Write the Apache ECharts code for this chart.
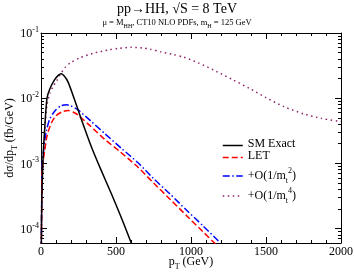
<!DOCTYPE html>
<html><head><meta charset="utf-8">
<script src="https://cdn.jsdelivr.net/npm/echarts@6/dist/echarts.min.js"></script>
<style>html,body{margin:0;padding:0;background:#fff}#c{width:354px;height:273px}</style>
</head><body><div id="c"></div>
<script>
// pT in GeV, dσ/dpT in fb/GeV
const smPt  = [2,5,10,15,25,40,60,90,115,135,155,180,225,270,335,400,470,535,605];
const smVal = [5.0e-5,2.51e-4,7.08e-4,1.41e-3,3.55e-3,1.0e-2,1.41e-2,1.91e-2,2.24e-2,2.37e-2,2.19e-2,1.78e-2,9.33e-3,4.68e-3,1.82e-3,7.94e-4,3.39e-4,1.48e-4,5.75e-5];
const letPt  = [2,5,8,15,25,40,69,100,140,180,220,247,330,424,527,647,750,860,970,1080,1165];
const letVal = [5.0e-5,2.51e-4,7.94e-4,1.12e-3,1.58e-3,2.63e-3,4.17e-3,5.37e-3,6.17e-3,6.46e-3,6.03e-3,5.50e-3,3.72e-3,2.34e-3,1.51e-3,8.71e-4,5.01e-4,2.82e-4,1.58e-4,8.91e-5,5.75e-5];
const m2Pt  = [2,5,8,15,25,36,58,91,130,169,200,247,336,424,536,647,749,860,971,1080,1195];
const m2Val = [5.0e-5,3.16e-4,8.91e-4,1.41e-3,2.24e-3,3.16e-3,4.79e-3,6.31e-3,7.59e-3,7.94e-3,7.59e-3,6.61e-3,4.37e-3,2.88e-3,1.70e-3,1.02e-3,5.89e-4,3.39e-4,1.91e-4,1.10e-4,6.03e-5];
const m4Pt  = [2,5,10,15,25,40,60,80,105,130,160,200,260,350,450,520,600,680,730,800,880,950,1050,1170,1280,1390,1500,1620,1750,1870,2000];
const m4Val = [5.0e-5,2.24e-4,6.31e-4,1.26e-3,3.16e-3,7.94e-3,1.20e-2,1.51e-2,1.86e-2,2.34e-2,2.95e-2,3.55e-2,4.17e-2,4.90e-2,5.50e-2,5.82e-2,6.03e-2,5.89e-2,5.62e-2,5.13e-2,4.68e-2,4.27e-2,3.47e-2,2.57e-2,1.91e-2,1.41e-2,1.02e-2,7.41e-3,5.75e-3,4.90e-3,4.37e-3];
const seriesNames = ['SM Exact','LET','+O(1/mt2)','+O(1/mt4)'];
const legendLabels = ['{b|SM Exact}','{b|LET}','{b|+O(1/m}{sub|t}{sup|2}{b|)}','{b|+O(1/m}{sub|t}{sup|4}{b|)}'];
const xTicks = [0,500,1000,1500,2000];
const yDecades = [-4,-3,-2,-1]; // exponents of 10
const yMin = 6.0e-5, yMax = 1e-1;

const LG = Math.log10;
const pairs = (p, v) => p.map((x, i) => [x, LG(v[i])]);
const minorVals = [];
for (let n = -5; n <= -2; n++) for (let k = 2; k <= 9; k++) {
  const t = n + LG(k);
  if (t > LG(yMin) && t < LG(yMax)) minorVals.push(t);
}
const FONT = '"Liberation Serif","DejaVu Serif",serif';
const grid = {left: 41, right: 13, top: 33, bottom: 30, containLabel: false, outerBoundsMode: 'none'};
const lineCol = '#000';

function xAx(pos, showLabel) {
  return {
    type: 'value', position: pos, min: 0, max: 2000, interval: 500,
    axisLine: {show: true, lineStyle: {color: lineCol, width: 1}},
    axisTick: {show: true, inside: true, length: 6, lineStyle: {color: lineCol}},
    minorTick: {show: true, splitNumber: 5, length: 3, lineStyle: {color: lineCol}},
    splitLine: {show: false}, minorSplitLine: {show: false},
    axisLabel: {show: showLabel, margin: 3, color: '#000', fontFamily: FONT, fontSize: 12,
      customValues: xTicks, formatter: v => String(v)},
    name: showLabel ? '{b|p}{sub|T}{b| (GeV)}' : '', nameLocation: 'middle', nameGap: 13, nameMoveOverlap: false,
    nameTextStyle: {color: '#000', fontFamily: FONT, fontSize: 12,
      rich: {b: {fontSize: 12, fontFamily: FONT, color: '#000', verticalAlign: 'bottom', padding: [0, 0, 3, 0]},
             sub: {fontSize: 8, fontFamily: FONT, color: '#000', verticalAlign: 'bottom'}}}
  };
}
function yAx(pos, major, withLabel) {
  return {
    type: 'value', position: pos, min: LG(yMin), max: LG(yMax),
    axisLine: {show: major, lineStyle: {color: lineCol, width: 1}},
    axisTick: {show: true, inside: true, length: major ? 6 : 3, customValues: major ? yDecades : minorVals, lineStyle: {color: lineCol}},
    splitLine: {show: false},
    axisLabel: withLabel ? {show: true, customValues: yDecades, margin: 2, color: '#000', fontFamily: FONT,
      formatter: v => '{b|10}{sup|' + Math.round(v) + '}',
      rich: {b: {fontSize: 12, fontFamily: FONT, color: '#000', verticalAlign: 'bottom'},
             sup: {fontSize: 8, fontFamily: FONT, color: '#000', verticalAlign: 'bottom', padding: [0, 0, 6, 0]}}} : {show: false},
    name: withLabel ? '{b|dσ/dp}{sub|T}{b| (fb/GeV)}' : '', nameLocation: 'middle', nameGap: 22, nameRotate: 90,
    nameMoveOverlap: false,
    nameTextStyle: {color: '#000', fontFamily: FONT, fontSize: 12,
      rich: {b: {fontSize: 12, fontFamily: FONT, color: '#000', verticalAlign: 'bottom', padding: [0, 0, 3, 0]},
             sub: {fontSize: 8, fontFamily: FONT, color: '#000', verticalAlign: 'bottom'}}}
  };
}
const styles = [
  {color: '#000000', width: 1.5, type: 'solid'},
  {color: '#ff0000', width: 1.5, type: [6, 3]},
  {color: '#0000ff', width: 1.5, type: [7, 2.5, 1.5, 2.5]},
  {color: '#8e2168', width: 1.5, type: [1.5, 3.5]}
];
const dataSets = [pairs(smPt, smVal), pairs(letPt, letVal), pairs(m2Pt, m2Val), pairs(m4Pt, m4Val)];
const series = seriesNames.map((n, i) => ({
  name: n, type: 'line', data: dataSets[i], symbol: 'none', showSymbol: false, smooth: 0.25,
  xAxisIndex: 0, yAxisIndex: 0, clip: true, z: 10 - i,
  lineStyle: {color: styles[i].color, width: styles[i].width, type: styles[i].type},
  itemStyle: {color: styles[i].color}
}));
const legendTops = [138, 150, 167, 187];
const legendRich = {
  b: {fontSize: 12, fontFamily: FONT, color: '#000', verticalAlign: 'bottom', padding: [0, 0, 3, 0]},
  sub: {fontSize: 8, fontFamily: FONT, color: '#000', verticalAlign: 'bottom'},
  sup: {fontSize: 8, fontFamily: FONT, color: '#000', verticalAlign: 'bottom', padding: [0, 0, 10, 0]}
};
const legends = seriesNames.map((n, i) => ({
  data: [n], left: 222, top: legendTops[i], orient: 'vertical', itemWidth: 20, itemHeight: 10, itemGap: 4,
  selectedMode: false, padding: 0,
  itemStyle: {opacity: 0, borderWidth: 0},
  lineStyle: {color: styles[i].color, width: 1.5, type: styles[i].type, opacity: 1},
  formatter: () => legendLabels[i],
  textStyle: {fontFamily: FONT, fontSize: 12, color: '#000', rich: legendRich}
}));
const chart = echarts.init(document.getElementById('c'), null, {renderer: 'canvas'});
chart.setOption({
  backgroundColor: '#fff', animation: false,
  grid: grid,
  xAxis: [xAx('bottom', true), xAx('top', false)],
  yAxis: [yAx('left', true, true), yAx('left', false, false), yAx('right', true, false), yAx('right', false, false)],
  legend: legends,
  series: series,
  graphic: [
    {type: 'text', left: 'center', top: 2, style: {text: 'pp→HH, √S = 8 TeV', fontFamily: FONT, fontSize: 14, fill: '#000'}},
    {type: 'text', left: 'center', top: 18, style: {
      text: '{b|μ = M}{s|HH}{b|, CT10 NLO PDFs, m}{s|H}{b| = 125 GeV}', fontFamily: FONT, fill: '#000',
      rich: {b: {fontSize: 8.5, fontFamily: FONT, fill: '#000', verticalAlign: 'bottom', padding: [0, 0, 2, 0]},
             s: {fontSize: 6, fontFamily: FONT, fill: '#000', verticalAlign: 'bottom'}}}}
  ]
});
</script></body></html>
